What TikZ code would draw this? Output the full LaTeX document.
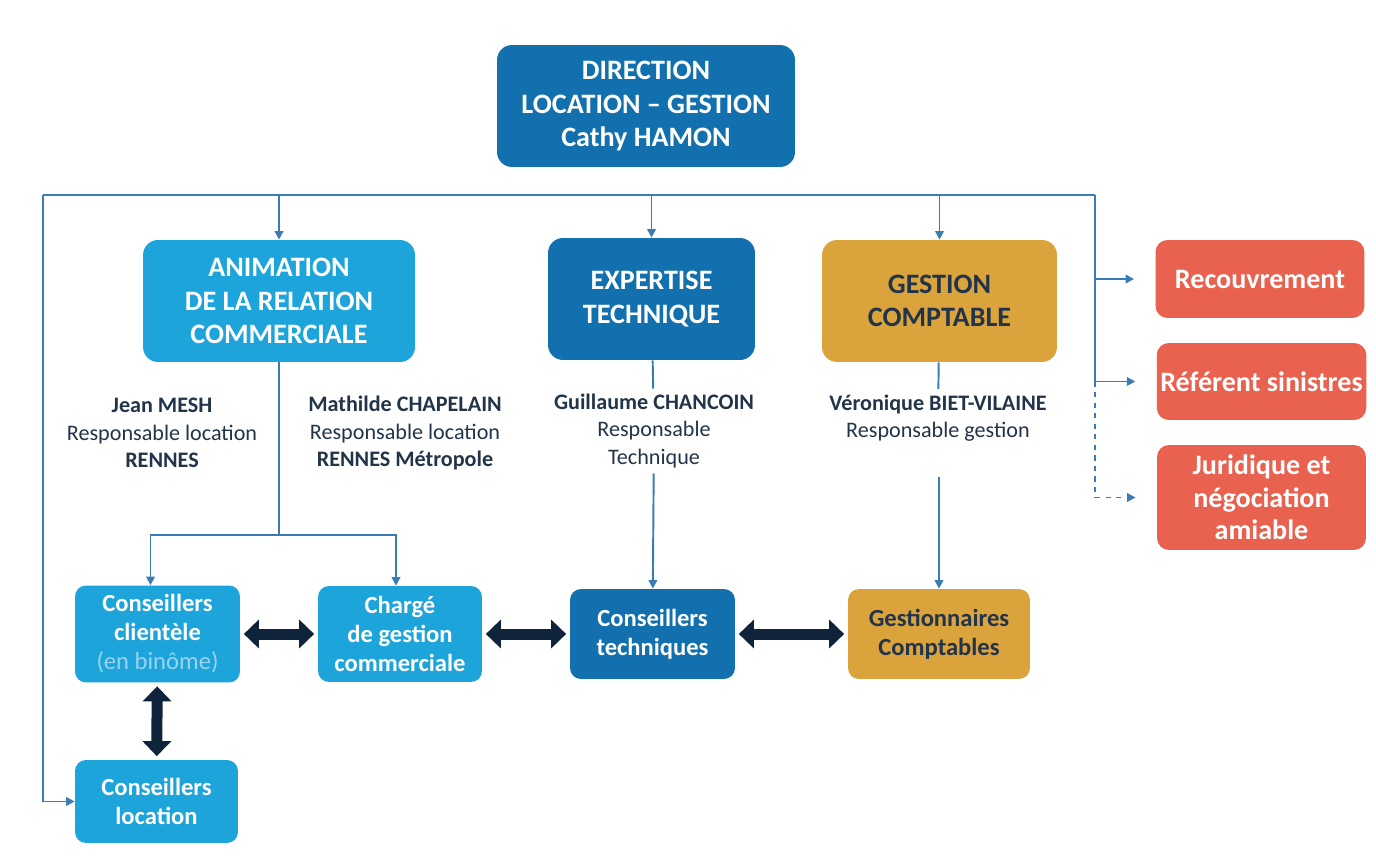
\documentclass[tikz,border=0pt]{standalone}
\usepackage{fontspec}
\setmainfont{Carlito}
\usepackage{tikz}
\usetikzlibrary{arrows.meta, positioning, calc}
\definecolor{dblue}{HTML}{1370AE}
\definecolor{lblue}{HTML}{1CA4DB}
\definecolor{cgold}{HTML}{DBA33C}
\definecolor{csalmon}{HTML}{E9614F}
\definecolor{cnavy}{HTML}{0F233A}
\definecolor{clink}{HTML}{3A7DB4}
\definecolor{ctext}{HTML}{223449}
\definecolor{cpale}{HTML}{9AD3F0}

\tikzset{
  box/.style={rounded corners=0.3cm, align=center, font=\bfseries\fontsize{16}{19}\selectfont, text=white, inner sep=2pt},
  smallbox/.style={box, rounded corners=0.22cm, font=\bfseries\fontsize{14}{16.5}\selectfont},
  sidebox/.style={box, fill=csalmon, rounded corners=0.24cm, font=\bfseries\fontsize{16}{18.5}\selectfont, minimum width=4.18cm},
  person/.style={align=center, text=ctext, font=\fontsize{12.6}{15.5}\selectfont, inner sep=3pt},
  link/.style={draw=clink, line width=1.1pt},
  arr/.style={link, -{Triangle[length=0.17cm, width=0.17cm]}},
  biarrow/.style={draw=cnavy, line width=0.22cm, {Triangle[length=0.3cm, width=0.56cm]}-{Triangle[length=0.3cm, width=0.56cm]}, shorten <=2pt, shorten >=2pt}
}

\begin{document}
\begin{tikzpicture}[x=0.02cm, y=-0.02cm]
  \useasboundingbox (0,0) rectangle (1376,861);

  % top
  \node[box, fill=dblue, minimum width=5.96cm, minimum height=2.44cm] (direction) at (646,106)
    {DIRECTION\\LOCATION -- GESTION\\Cathy HAMON};

  % services
  \node[box, fill=lblue, minimum width=5.44cm, minimum height=2.44cm] (animation) at (279,301)
    {ANIMATION\\DE LA RELATION\\COMMERCIALE};
  \node[box, fill=dblue, minimum width=4.14cm, minimum height=2.44cm] (expertise) at (651.5,299)
    {EXPERTISE\\TECHNIQUE};
  \node[box, fill=cgold, text=ctext, minimum width=4.7cm, minimum height=2.44cm] (gestion) at (939.5,301)
    {GESTION\\COMPTABLE};

  \node[sidebox, minimum height=1.56cm] (recouv) at (1260,279) {Recouvrement};
  \node[sidebox, minimum height=1.54cm] (referent) at (1261.5,381.5) {Référent sinistres};
  \node[sidebox, minimum height=2.1cm] (juridique) at (1261.5,497.5) {Juridique et\\négociation\\amiable};

  % responsables
  \node[person] (jean) at (162,433)
    {\textbf{Jean MESH}\\Responsable location\\\textbf{RENNES}};
  \node[person] (mathilde) at (405,433)
    {\textbf{Mathilde CHAPELAIN}\\Responsable location\\\textbf{RENNES Métropole}};
  \node[person] (guillaume) at (654,431)
    {\textbf{Guillaume CHANCOIN}\\Responsable\\Technique};
  \node[person] (veronique) at (938,418)
    {\textbf{Véronique BIET-VILAINE}\\Responsable gestion};

  % equipes
  \node[smallbox, fill=lblue, minimum width=3.3cm, minimum height=1.94cm] (clientele) at (157.5,634)
    {Conseillers\\clientèle\\{\mdseries\color{cpale}(en binôme)}};
  \node[smallbox, fill=lblue, minimum width=3.28cm, minimum height=1.92cm] (charge) at (400,634)
    {Chargé\\de gestion\\commerciale};
  \node[smallbox, fill=dblue, minimum width=3.3cm, minimum height=1.8cm] (ctech) at (652.5,634)
    {Conseillers\\techniques};
  \node[smallbox, fill=cgold, text=ctext, minimum width=3.64cm, minimum height=1.8cm] (gcompta) at (939,634)
    {Gestionnaires\\Comptables};
  \node[smallbox, fill=lblue, minimum width=3.26cm, minimum height=1.66cm] (location) at (156.5,801.5)
    {Conseillers\\location};

  % connectors
  \coordinate (tl) at (43,195);
  \coordinate (tr) at (1095,195);
  \coordinate (branch) at (279,535);

  \draw[link] (tl) -- (tr);
  \draw[arr] (tl) |- (location.west);
  \draw[arr] (animation.north |- tl) -- (animation.north);
  \draw[arr] (expertise.north |- tl) -- (expertise.north);
  \draw[arr] (gestion.north |- tl) -- (gestion.north);

  \draw[link] (tr) -- (tr |- referent);
  \draw[arr, shorten >=12pt] (tr |- recouv) -- (recouv.west);
  \draw[arr, shorten >=12pt] (tr |- referent) -- (referent.west);
  \draw[arr, dashed, shorten >=12pt] (tr |- referent) |- (juridique.west);

  \draw[link] (animation) -- (branch);
  \draw[arr] (branch) -| ([xshift=-0.14cm]clientele.north);
  \draw[arr] (branch) -| ([xshift=-0.08cm]charge.north);

  \draw[link] (expertise) -- (guillaume);
  \draw[arr] (guillaume) -- (ctech);
  \draw[link] (gestion) -- (veronique);
  \draw[arr] (veronique.south -| gcompta.north) ++(0,30) -- (gcompta.north);

  \draw[biarrow] (clientele) -- (charge);
  \draw[biarrow] (charge) -- (ctech);
  \draw[biarrow] (ctech) -- (gcompta);
  \draw[biarrow] (clientele) -- (location);
\end{tikzpicture}
\end{document}
